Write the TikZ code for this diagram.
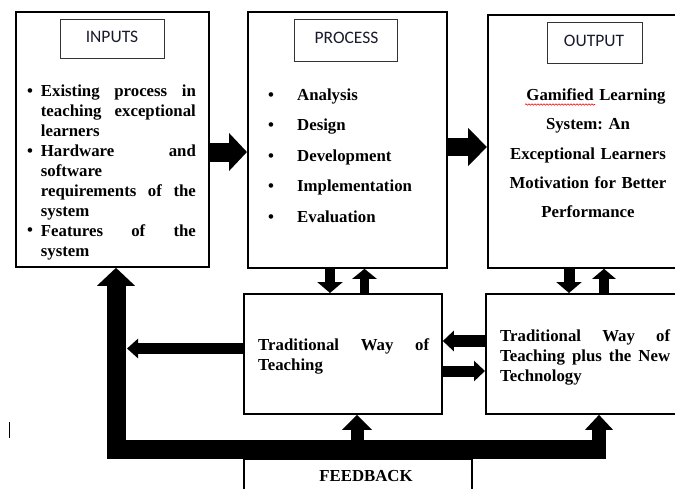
\documentclass[tikz,border=0pt]{standalone}
\usepackage{fontspec}
\setmainfont{Liberation Serif}
\newfontfamily\calfont{Carlito}
\usetikzlibrary{arrows.meta,decorations.pathmorphing}
\definecolor{labelcol}{HTML}{1A1A2E}
\frenchspacing
\begin{document}
\begin{tikzpicture}[x=1pt,y=-1pt,
  mainbox/.style={draw=black, line width=1.8pt, inner sep=0pt, anchor=north west},
  labelbox/.style={draw=black!80, line width=1.3pt, inner sep=0pt, anchor=north west},
  labeltext/.style={font=\calfont\fontsize{17.5}{20}\selectfont, text=labelcol, anchor=base, inner sep=0pt},
  bodytext/.style={font=\bfseries\fontsize{16.8}{20}\selectfont, inner sep=0pt, anchor=base west},
  fat/.style n args={3}{line width=#1, -{Triangle[width=#2, length=#3]}},
]
\useasboundingbox (0,0) rectangle (675,488);
\clip (0,0) rectangle (675,488);

% main boxes
\node[mainbox, minimum width=193pt, minimum height=255pt] (inputs) at (15,11) {};
\node[mainbox, minimum width=199pt, minimum height=256pt] (process) at (247,11) {};
\node[mainbox, minimum width=210pt, minimum height=253pt] (output) at (487,14) {};
\node[mainbox, minimum width=198pt, minimum height=120pt] (trad) at (243,293) {};
\node[mainbox, minimum width=210pt, minimum height=120pt] (tradnew) at (485,293) {};
\node[mainbox, minimum width=228pt, minimum height=50pt] (feedback) at (243,458) {};

% label boxes
\node[labelbox, minimum width=104pt, minimum height=39pt] (inlab) at (60,19) {};
\node[labeltext] (inlabt) at (112,42.5) {INPUTS};
\node[labelbox, minimum width=103pt, minimum height=42pt] (prlab) at (294,19) {};
\node[labeltext] (prlabt) at (346.5,43.3) {PROCESS};
\node[labelbox, minimum width=95pt, minimum height=41pt] (outlab) at (547,22) {};
\node[labeltext] (outlabt) at (594,46) {OUTPUT};

% inputs text
\node[bodytext, text width=155pt, align=justify] (intext) at (40.7,96.5)
 {\parindent=0pt\tolerance=10000\hbadness=10000\hyphenpenalty=10000
  Existing process in\linebreak teaching exceptional\linebreak learners\par
  Hardware and\linebreak software\linebreak requirements of the\linebreak system\par
  Features of the\linebreak system};
\node[bodytext, anchor=base] (ib1) at (30,96.5) {\textbullet};
\node[bodytext, anchor=base] (ib2) at (30,156.2) {\textbullet};
\node[bodytext, anchor=base] (ib3) at (30,235.8) {\textbullet};

% process list
\foreach \t [count=\i] in {Analysis,Design,Development,Implementation,Evaluation}{
  \node[bodytext, anchor=base] (pb\i) at (271,{100+(\i-1)*30.6}) {\textbullet};
  \node[bodytext] (pt\i) at (297,{100+(\i-1)*30.6}) {\t};
}

% output text
\node[bodytext, anchor=base, text width=180pt, align=center,
      font=\bfseries\fontsize{16.8}{29.2}\selectfont] (outtext) at (588,100.7)
 {\hspace*{16pt}Gamified Learning\\ System: An\\ Exceptional Learners\\ Motivation for Better\\ Performance};
\draw[red, line width=0.6pt, decorate, decoration={snake, amplitude=0.7pt, segment length=3pt}]
  (525,104.5) -- (595,104.5);

% middle boxes text
\node[bodytext, text width=171pt, align=justify] (tradt) at (258,350.5)
 {\tolerance=10000\hbadness=10000\hyphenpenalty=10000 Traditional Way of\linebreak Teaching};
\node[bodytext, text width=170pt, align=justify] (tradnewt) at (500,341)
 {\tolerance=10000\hbadness=10000\hyphenpenalty=10000 Traditional Way of\linebreak Teaching plus the New\linebreak Technology};

\node[bodytext, anchor=base] (fbt) at (366,481.7) {FEEDBACK};

% arrows
\coordinate (r1) at (0,152);
\draw[fat={19pt}{37pt}{18pt}] (inputs.east |- r1) -- (process.west |- r1);
\coordinate (r2) at (0,147);
\draw[fat={18pt}{37pt}{19pt}] (process.east |- r2) -- (output.west |- r2);

\coordinate (c1) at (330,0);
\draw[fat={10pt}{25pt}{11pt}] (process.south -| c1) -- (trad.north -| c1);
\coordinate (c2) at (364.5,0);
\draw[fat={9pt}{24pt}{10pt}] (trad.north -| c2) -- (process.south -| c2);
\coordinate (c3) at (569,0);
\draw[fat={11pt}{25pt}{11pt}] (output.south -| c3) -- (tradnew.north -| c3);
\coordinate (c4) at (604,0);
\draw[fat={10pt}{23pt}{10pt}] (tradnew.north -| c4) -- (output.south -| c4);

\coordinate (r3) at (0,341);
\draw[fat={12pt}{20pt}{11pt}] (tradnew.west |- r3) -- (trad.east |- r3);
\coordinate (r4) at (0,371);
\draw[fat={11pt}{20pt}{11pt}] (trad.east |- r4) -- (tradnew.west |- r4);

\coordinate (lt) at (127,348.5);
\draw[fat={11pt}{19pt}{11pt}] (trad.west |- lt) -- (lt);

% feedback loop
\coordinate (fbr) at (606,449);
\coordinate (fbc) at (116,449);
\draw[fat={19pt}{37pt}{18pt}, line join=miter] (fbr) -- (fbc) -- (inputs.south -| fbc);
\coordinate (u1) at (357,449);
\draw[fat={13pt}{29pt}{15pt}] (u1) -- (trad.south -| u1);
\coordinate (u2) at (599,449);
\draw[fat={14pt}{27pt}{15pt}] (u2) -- (tradnew.south -| u2);

% stray mark
\draw[line width=1pt] (9,422) -- (9,438);
\end{tikzpicture}
\end{document}
